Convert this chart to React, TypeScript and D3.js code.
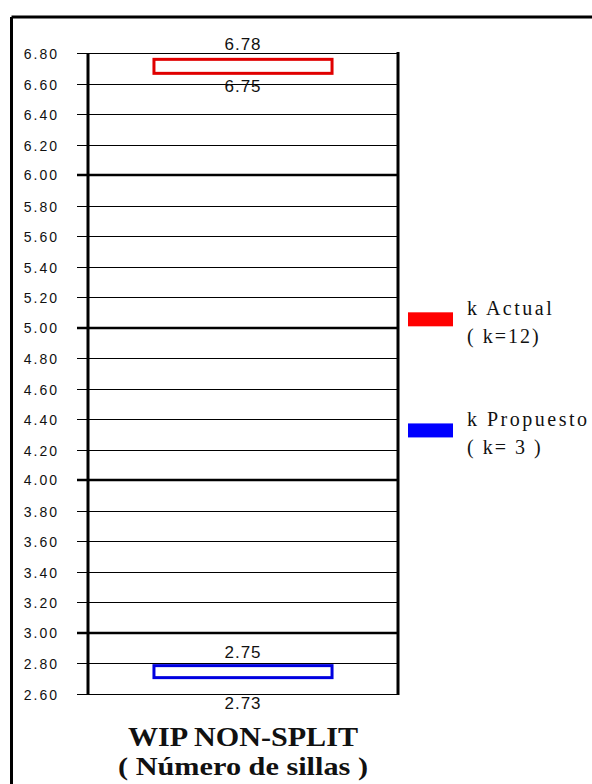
import React from "react";
import * as d3 from "d3";

const ticks = [2.6, 2.8, 3.0, 3.2, 3.4, 3.6, 3.8, 4.0, 4.2, 4.4, 4.6, 4.8, 5.0, 5.2, 5.4, 5.6, 5.8, 6.0, 6.2, 6.4, 6.6, 6.8];
const majorTicks = [3.0, 4.0, 5.0, 6.0];
const seriesNames = ["k Actual", "k Propuesto"];
const seriesSub = ["( k=12)", "( k= 3 )"];
const seriesColors = ["#e00000", "#0000e0"];
const legendColors = ["#ff0000", "#0000ff"];
const highs = [6.78, 2.75];
const lows = [6.75, 2.73];
const legendValues = [5.055, 4.327];
const categories = ["WIP NON-SPLIT"];
const subtitle = "( Número de sillas )";

export default function App() {
  const W = 592, H = 784;
  const y = d3.scaleLinear().domain([2.6, 6.8]).range([694, 53]);
  const x0 = 88, x1 = 398;
  const x = d3.scaleBand().domain(categories).range([x0, x1]).paddingInner(0).paddingOuter(0.356);
  const boxH = 14;
  const bx = x("WIP NON-SPLIT") as number;
  const bw = x.bandwidth();
  const cx = bx + bw / 2;
  const sans = "Liberation Sans, Arial, sans-serif";
  const serif = "Liberation Serif, Times New Roman, serif";
  return (
    <svg width={W} height={H} style={{ position: "absolute", left: 0, top: 0, background: "#fff" }}>
      {/* frame */}
      <line x1={11.5} x2={W} y1={17} y2={17} stroke="#000" strokeWidth={3} />
      <line x1={11.5} x2={11.5} y1={17} y2={H} stroke="#000" strokeWidth={3} />
      {/* grid */}
      {ticks.map((t) => {
        const major = majorTicks.some((m) => Math.abs(m - t) < 1e-6);
        const yy = Math.round(y(t)) + (major ? 0 : 0.5);
        return (
          <g key={t}>
            <line x1={77} x2={x1} y1={yy} y2={yy} stroke="#000" strokeWidth={major ? 2.5 : 1.2} />
            <text x={59} y={yy + 5} textAnchor="end" fontFamily={sans} fontSize={14} letterSpacing={2} fill="#111">
              {t.toFixed(2)}
            </text>
          </g>
        );
      })}
      {/* axes */}
      <line x1={x0} x2={x0} y1={y(6.8)} y2={y(2.6) + 1} stroke="#000" strokeWidth={3} />
      <line x1={x1} x2={x1} y1={y(6.8) - 1} y2={y(2.6) + 1} stroke="#000" strokeWidth={3} />
      {/* boxes */}
      {highs.map((h, i) => {
        const mid = y((h + lows[i]) / 2);
        return (
          <g key={i}>
            <rect x={bx + 1.5} y={mid - boxH / 2 + (i === 0 ? 8 : 0)} width={bw - 3} height={boxH - (i === 0 ? 0 : 2)} fill="#fff" stroke={seriesColors[i]} strokeWidth={3} />
            <text x={cx} y={y(h) - (i === 0 ? 6 : 13)} textAnchor="middle" fontFamily={sans} fontSize={17} letterSpacing={1} fill="#111">
              {h.toFixed(2)}
            </text>
            <text x={cx} y={y(lows[i]) + (i === 0 ? 31 : 35)} textAnchor="middle" fontFamily={sans} fontSize={17} letterSpacing={1} fill="#111">
              {lows[i].toFixed(2)}
            </text>
          </g>
        );
      })}
      {/* category labels */}
      <text x={cx} y={746} textAnchor="middle" fontFamily={serif} fontSize={27} fontWeight="bold" fill="#111" textLength={230} lengthAdjust="spacingAndGlyphs">
        {categories[0]}
      </text>
      <text x={cx} y={775} textAnchor="middle" fontFamily={serif} fontWeight="bold" fontSize={26} fill="#111" textLength={250} lengthAdjust="spacingAndGlyphs">
        {subtitle}
      </text>
      {/* legend */}
      {seriesNames.map((n, i) => {
        const ly = y(legendValues[i]);
        return (
          <g key={n}>
            <rect x={408} y={ly - 7} width={45} height={14} fill={legendColors[i]} />
            <text x={467} y={ly - 4} fontFamily={serif} fontSize={20} fill="#111" letterSpacing={2.5}>
              {n}
            </text>
            <text x={467} y={ly + 24} fontFamily={serif} fontSize={20} fill="#111" letterSpacing={2}>
              {seriesSub[i]}
            </text>
          </g>
        );
      })}
    </svg>
  );
}
